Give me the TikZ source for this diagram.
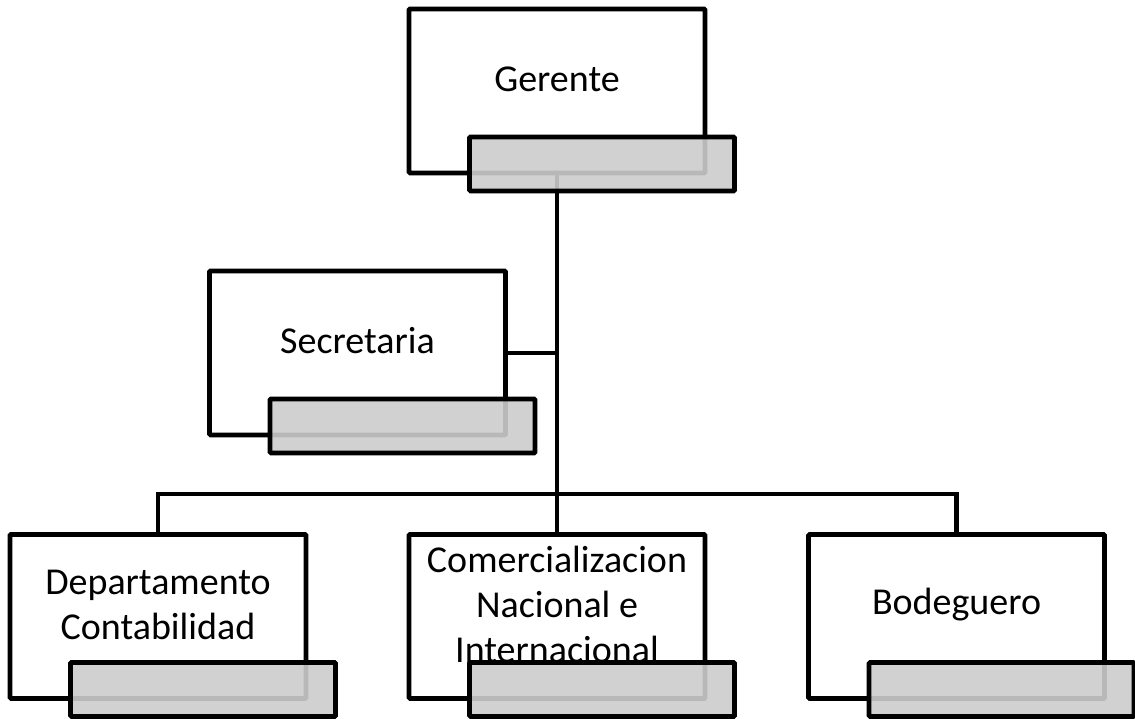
\documentclass[tikz,border=0pt]{standalone}
\usepackage{fontspec}
\setmainfont{Carlito}
\usetikzlibrary{positioning}

\begin{document}
\begin{tikzpicture}[x=1pt, y=1pt, line width=4.6pt,
						box/.style={draw, fill=white, rounded corners=1pt, inner sep=0pt,
							minimum width=296pt, minimum height=164pt},
						tag/.style={draw, fill=black!20, fill opacity=0.9, rounded corners=1pt, inner sep=0pt,
							minimum width=265pt, minimum height=54pt},
						txt/.style={align=center, font=\fontsize{38}{45}\selectfont}]
						\useasboundingbox (0,0) rectangle (1135,719);
						% boxes
						\node[box] (ger) at (557,628) {};
						\node[box] (sec) at (357.5,366) {};
						\node[box] (dep) at (158,102.5) {};
						\node[box] (com) at (557,102.5) {};
						\node[box] (bod) at (956.5,102.5) {};
						\node[txt] (gerT) at ([yshift=12pt]ger.center) {Gerente};
						\node[txt] (secT) at ([yshift=12pt]sec.center) {Secretaria};
						\node[txt] (depT) at ([yshift=12pt]dep.center) {Departamento\\Contabilidad};
						\node[txt] (comT) at ([yshift=12pt]com.center) {Comercializacion\\Nacional e\\Internacional};
						\node[txt] (bodT) at ([yshift=12pt]bod.center) {Bodeguero};
						% lines
						\coordinate (bus) at (557,225);
						\draw (ger.south) -- (com.north);
						\draw (sec.east) -- (sec.east -| ger.south);
						\draw (dep.north) |- (bus) -| (bod.north);
						% gray tabs
						\foreach \b in {ger, sec, dep, com, bod}
							\node[tag] (\b Tag) at ([shift={(45pt,-73pt)}]\b.center) {};
					\end{tikzpicture}
\end{document}
